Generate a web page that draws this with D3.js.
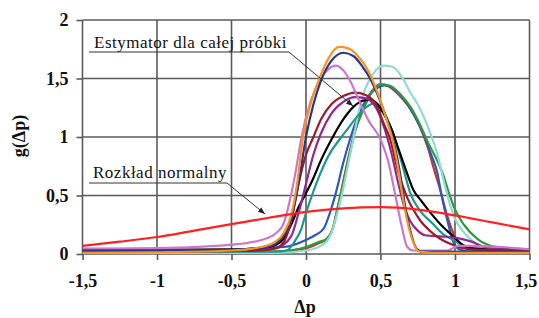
<!DOCTYPE html>
<html>
<head>
<meta charset="UTF-8">
<title>g(Δp)</title>
<script src="https://d3js.org/d3.v7.min.js"></script>
<style>
  body { margin: 0; background: #fff; }
</style>
</head>
<body>
<svg id="chart" width="539" height="318"></svg>
<script>
// tick values
var xTicks = [-1.5, -1, -0.5, 0, 0.5, 1, 1.5];
var yTicks = [0, 0.5, 1, 1.5, 2];

// curves, [Δp, g]
var sFirebrick = [[-1.5,0.01],[-1,0.01],[-0.5,0.015],[-0.2,0.02],[0,0.05],[0.08,0.09],[0.14,0.13],[0.18,0.22],[0.21,0.38],[0.24,0.56],[0.28,0.8],[0.33,1.06],[0.38,1.24],[0.44,1.39],[0.5,1.45],[0.56,1.43],[0.63,1.35],[0.7,1.24],[0.76,1.1],[0.82,0.9],[0.86,0.72],[0.9,0.55],[0.94,0.36],[0.97,0.24],[1.01,0.12],[1.05,0.07],[1.12,0.04],[1.5,0.03]];
var sBlue = [[-1.5,0.02],[-1,0.02],[-0.5,0.03],[-0.35,0.05],[-0.15,0.06],[0,0.12],[0.06,0.16],[0.12,0.22],[0.16,0.35],[0.2,0.52],[0.25,0.78],[0.3,1.0],[0.35,1.18],[0.42,1.35],[0.48,1.42],[0.53,1.44],[0.6,1.4],[0.67,1.3],[0.72,1.2],[0.78,1.05],[0.84,0.85],[0.88,0.7],[0.91,0.5],[0.95,0.28],[0.99,0.1],[1.03,0.04],[1.1,0.02],[1.5,0.02]];
var sGreen = [[-1.5,0.01],[-1,0.01],[-0.5,0.01],[-0.2,0.02],[0,0.06],[0.08,0.1],[0.14,0.13],[0.18,0.22],[0.21,0.38],[0.24,0.55],[0.28,0.78],[0.33,1.05],[0.38,1.22],[0.44,1.38],[0.5,1.45],[0.56,1.44],[0.63,1.37],[0.7,1.26],[0.76,1.12],[0.82,0.95],[0.88,0.8],[0.92,0.68],[0.96,0.52],[1.0,0.38],[1.06,0.25],[1.15,0.13],[1.28,0.06],[1.5,0.04]];
var sCyan = [[-1.5,0.01],[-1,0.01],[-0.5,0.01],[-0.2,0.01],[0,0.03],[0.1,0.07],[0.16,0.15],[0.2,0.3],[0.24,0.5],[0.28,0.75],[0.32,1.0],[0.36,1.25],[0.4,1.42],[0.45,1.54],[0.52,1.61],[0.58,1.6],[0.65,1.5],[0.7,1.38],[0.75,1.28],[0.82,1.08],[0.88,0.86],[0.92,0.65],[0.96,0.45],[1.0,0.3],[1.05,0.2],[1.12,0.11],[1.2,0.06],[1.5,0.03]];
var sTeal = [[-1.5,0.02],[-1,0.02],[-0.5,0.02],[-0.2,0.02],[-0.13,0.03],[-0.08,0.1],[-0.03,0.22],[0,0.35],[0.04,0.5],[0.1,0.7],[0.16,0.86],[0.22,0.97],[0.28,1.07],[0.34,1.17],[0.4,1.25],[0.46,1.29],[0.52,1.22],[0.57,1.08],[0.62,0.88],[0.66,0.7],[0.7,0.52],[0.76,0.38],[0.85,0.26],[0.92,0.17],[0.99,0.12],[1.05,0.07],[1.1,0.05],[1.5,0.04]];
var sBlack = [[-1.5,0.035],[-1,0.035],[-0.5,0.04],[-0.3,0.05],[-0.2,0.08],[-0.15,0.13],[-0.1,0.25],[-0.05,0.4],[0,0.52],[0.05,0.65],[0.1,0.8],[0.18,1.0],[0.25,1.15],[0.32,1.26],[0.38,1.31],[0.43,1.32],[0.48,1.28],[0.53,1.18],[0.58,1.05],[0.62,0.9],[0.67,0.72],[0.72,0.55],[0.77,0.46],[0.85,0.33],[0.92,0.23],[0.99,0.15],[1.05,0.08],[1.1,0.05],[1.2,0.04],[1.5,0.04]];
var sPurple = [[-1.5,0.045],[-1,0.04],[-0.5,0.03],[-0.3,0.035],[-0.2,0.05],[-0.1,0.15],[-0.05,0.35],[0,0.6],[0.05,0.85],[0.1,1.03],[0.17,1.2],[0.25,1.3],[0.33,1.34],[0.4,1.33],[0.47,1.25],[0.52,1.1],[0.57,0.88],[0.62,0.6],[0.66,0.4],[0.7,0.28],[0.75,0.2],[0.8,0.16],[0.9,0.15],[1.0,0.14],[1.1,0.11],[1.2,0.06],[1.3,0.04],[1.5,0.03]];
var sDarkRed = [[-1.5,0.02],[-1,0.02],[-0.5,0.025],[-0.3,0.03],[-0.2,0.05],[-0.15,0.1],[-0.1,0.28],[-0.05,0.6],[0,0.85],[0.05,1.0],[0.1,1.15],[0.17,1.28],[0.25,1.35],[0.33,1.38],[0.4,1.36],[0.47,1.28],[0.52,1.12],[0.56,1.0],[0.62,0.7],[0.68,0.48],[0.72,0.38],[0.77,0.28],[0.83,0.2],[0.9,0.13],[1.0,0.07],[1.1,0.04],[1.5,0.03]];
var sPink = [[-1.5,0.045],[-1,0.05],[-0.5,0.08],[-0.3,0.12],[-0.2,0.18],[-0.15,0.26],[-0.11,0.45],[-0.07,0.7],[-0.03,1.0],[0.03,1.3],[0.1,1.5],[0.15,1.58],[0.2,1.61],[0.25,1.57],[0.3,1.47],[0.36,1.3],[0.42,1.14],[0.5,0.98],[0.55,0.8],[0.6,0.5],[0.64,0.25],[0.68,0.06],[0.72,0.03],[0.95,0.03],[1.02,0.07],[1.1,0.07],[1.5,0.04]];
var sNavy = [[-1.5,0.03],[-1,0.03],[-0.5,0.035],[-0.3,0.05],[-0.2,0.09],[-0.15,0.16],[-0.1,0.3],[-0.05,0.6],[0,1.0],[0.05,1.28],[0.1,1.48],[0.17,1.65],[0.25,1.72],[0.32,1.69],[0.38,1.6],[0.43,1.5],[0.5,1.3],[0.55,1.12],[0.59,0.95],[0.63,0.7],[0.66,0.45],[0.7,0.2],[0.74,0.05],[0.78,0.02],[1,0.02],[1.5,0.02]];
var sOrange = [[-1.5,0.01],[-1,0.015],[-0.5,0.03],[-0.3,0.06],[-0.2,0.11],[-0.15,0.18],[-0.1,0.33],[-0.06,0.6],[-0.02,1.0],[0.03,1.28],[0.09,1.5],[0.15,1.67],[0.22,1.77],[0.28,1.76],[0.35,1.69],[0.42,1.56],[0.48,1.38],[0.54,1.15],[0.58,0.98],[0.62,0.72],[0.65,0.48],[0.68,0.28],[0.72,0.1],[0.76,0.02],[0.85,0.01],[1.5,0.01]];
var sNormal = [[-1.5,0.07],[-1.25,0.105],[-1,0.145],[-0.75,0.2],[-0.5,0.255],[-0.25,0.31],[0,0.36],[0.25,0.39],[0.5,0.4],[0.75,0.38],[1,0.33],[1.25,0.27],[1.5,0.21]];

var series = [
  {data: sFirebrick, color: "#c0392b"},
  {data: sBlue, color: "#2a58c0"},
  {data: sGreen, color: "#2e9a3c"},
  {data: sCyan, color: "#8fd9d6"},
  {data: sTeal, color: "#199a8c"},
  {data: sBlack, color: "#000000"},
  {data: sPurple, color: "#93278f"},
  {data: sDarkRed, color: "#9e1b2a"},
  {data: sPink, color: "#cc77cc"},
  {data: sNavy, color: "#2b3590"},
  {data: sOrange, color: "#f7941d"},
  {data: sNormal, color: "#ff2020"}
];

var serif = "'Liberation Serif'";

var svg = d3.select("#chart");
var x = d3.scaleLinear().domain([-1.5, 1.5]).range([82.5, 529.5]);
var y = d3.scaleLinear().domain([0, 2]).range([254, 20]);
var fmt = function (d) { return String(d).replace(".", ","); };

// grid
svg.append("g").selectAll("line").data(xTicks).enter().append("line")
    .attr("x1", x).attr("x2", x).attr("y1", y(0)).attr("y2", y(2))
    .attr("stroke", "#5a5a5a").attr("stroke-width", 1.6);
svg.append("g").selectAll("line").data(yTicks).enter().append("line")
    .attr("x1", x(-1.5)).attr("x2", x(1.5)).attr("y1", y).attr("y2", y)
    .attr("stroke", "#5a5a5a").attr("stroke-width", 1.6);

// axes
var yAxis = svg.append("g").attr("transform", "translate(" + x(-1.5) + ",0)")
    .call(d3.axisLeft(y).tickValues(yTicks).tickFormat(fmt).tickSize(6).tickPadding(8));
var xAxis = svg.append("g").attr("transform", "translate(0," + y(0) + ")")
    .call(d3.axisBottom(x).tickValues(xTicks).tickFormat(fmt).tickSize(6));
svg.selectAll(".domain").remove();
svg.selectAll(".tick line").attr("stroke", "#5a5a5a").attr("stroke-width", 1.6);
svg.selectAll(".tick text")
    .style("font-family", serif).style("font-size", "18px")
    .style("font-weight", "bold").attr("fill", "#111");
xAxis.selectAll(".tick text").attr("y", 33).attr("dy", 0)
    .attr("dx", function (d) { return d === 1.5 ? -4 : 0; });

// curves
svg.append("clipPath").attr("id", "clip").append("rect")
    .attr("x", x(-1.5)).attr("y", y(2)).attr("width", x(1.5) - x(-1.5)).attr("height", y(0) - y(2));
var line = d3.line().x(function (d) { return x(d[0]); }).y(function (d) { return y(d[1]); })
    .curve(d3.curveMonotoneX);
svg.append("g").attr("clip-path", "url(#clip)")
    .selectAll("path").data(series).enter().append("path")
    .attr("d", function (d) { return line(d.data); })
    .attr("fill", "none")
    .attr("stroke", function (d) { return d.color; })
    .attr("stroke-width", 2.2)
    .attr("stroke-linejoin", "round");

// axis titles
svg.append("text").attr("x", 305).attr("y", 313).attr("text-anchor", "middle")
    .style("font-family", serif).style("font-size", "18px").style("font-weight", "bold")
    .attr("fill", "#111").text("Δp");
svg.append("text").attr("transform", "translate(25,136) rotate(-90)").attr("text-anchor", "middle")
    .style("font-family", serif).style("font-size", "18px").style("font-weight", "bold")
    .attr("fill", "#111").text("g(Δp)");

// annotations
svg.append("defs").append("marker").attr("id", "arrow")
    .attr("viewBox", "0 0 10 10").attr("refX", 10).attr("refY", 5)
    .attr("markerWidth", 7).attr("markerHeight", 7).attr("orient", "auto")
    .append("path").attr("d", "M0,1 L10,5 L0,9 z").attr("fill", "#222");

var notes = [
  {text: "Estymator dla całej próbki", tx: 94, ty: 48, pts: [[89, 52], [289, 52], [353, 106]]},
  {text: "Rozkład normalny", tx: 93, ty: 178, pts: [[89, 183], [227, 183], [265, 214]]}
];
notes.forEach(function (n) {
  svg.append("text").attr("x", n.tx).attr("y", n.ty)
      .style("font-family", serif).style("font-size", "17px").style("letter-spacing", "0.5px")
      .attr("fill", "#111").text(n.text);
  svg.append("path").attr("d", d3.line()(n.pts)).attr("fill", "none")
      .attr("stroke", "#333").attr("stroke-width", 1).attr("marker-end", "url(#arrow)");
});
</script>
</body>
</html>
